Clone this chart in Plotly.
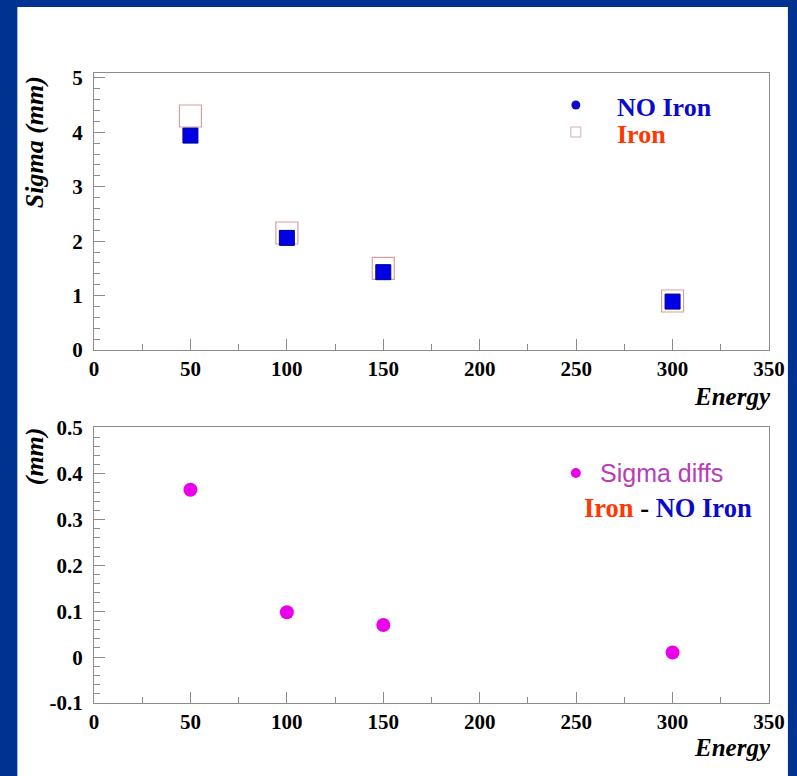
import plotly.graph_objects as go

# Beam energies and measured widths
energy = [50, 100, 150, 300]
sigma_no_iron = [3.94, 2.06, 1.43, 0.89]
sigma_iron = [4.30, 2.15, 1.50, 0.90]
sigma_diff = [0.365, 0.098, 0.07, 0.01]

x_ticks = [0, 50, 100, 150, 200, 250, 300, 350]
top_y_ticks = [0, 1, 2, 3, 4, 5]
bottom_y_ticks = [-0.1, 0, 0.1, 0.2, 0.3, 0.4, 0.5]
bottom_y_labels = ["-0.1", "0", "0.1", "0.2", "0.3", "0.4", "0.5"]

W, H = 797, 776
L, R, T, B = 94, 772, 73, 703          # plot area in pixels


def px(x):
    return (x - L) / (R - L)


def py(y):
    return (B - y) / (B - T)


BLUE_BG = "rgb(0,50,145)"
FRAME = "rgb(140,140,140)"
SERIF = "Liberation Serif, Times New Roman, serif"
SANS = "Liberation Sans, Arial, sans-serif"
TEXT_BLUE = "rgb(10,10,205)"
TEXT_RED = "rgb(255,55,0)"

fig = go.Figure()

fig.add_trace(go.Scatter(
    x=energy, y=sigma_iron, mode="markers", name="Iron",
    marker=dict(symbol="square-open", size=22, color="rgb(215,160,160)",
                line=dict(width=1.2)),
    xaxis="x", yaxis="y", showlegend=False,
))
fig.add_trace(go.Scatter(
    x=energy, y=sigma_no_iron, mode="markers", name="NO Iron",
    marker=dict(symbol="square", size=15, color="rgb(0,0,230)",
                line=dict(width=1, color="rgb(0,0,140)")),
    xaxis="x", yaxis="y", showlegend=False,
))
fig.add_trace(go.Scatter(
    x=energy, y=sigma_diff, mode="markers", name="Sigma diffs",
    marker=dict(symbol="circle", size=14, color="rgb(235,0,235)",
                line=dict(width=0)),
    xaxis="x2", yaxis="y2", showlegend=False,
))

tickfont = dict(family=SERIF, size=21, color="black", weight=700)
axis_common = dict(
    showline=True, linecolor=FRAME, linewidth=1, mirror=True,
    ticks="inside", tickcolor=FRAME, ticklen=11, tickwidth=1,
    showgrid=False, zeroline=False, tickfont=tickfont,
)

xaxis_cfg = dict(axis_common, range=[0, 350], tickvals=x_ticks,
                 minor=dict(ticks="inside", dtick=25, ticklen=6,
                            tickcolor=FRAME, showgrid=False),
                 ticklabelstandoff=0)

fig.update_layout(
    width=W, height=H,
    margin=dict(l=L, r=W - R, t=T, b=H - B),
    paper_bgcolor=BLUE_BG,
    plot_bgcolor="white",
    xaxis=dict(xaxis_cfg, domain=[0, 1], anchor="y"),
    yaxis=dict(axis_common, domain=[py(350), 1], anchor="x",
               range=[0, 5.09], tickvals=top_y_ticks,
               minor=dict(ticks="inside", dtick=0.2, ticklen=6,
                          tickcolor=FRAME, showgrid=False),
               ticklabelstandoff=6),
    xaxis2=dict(xaxis_cfg, domain=[0, 1], anchor="y2"),
    yaxis2=dict(axis_common, domain=[0, py(427)], anchor="x2",
                range=[-0.1, 0.502], tickvals=bottom_y_ticks,
                ticktext=bottom_y_labels,
                minor=dict(ticks="inside", dtick=0.02, ticklen=6,
                           tickcolor=FRAME, showgrid=False),
                ticklabelstandoff=6),
    showlegend=False,
)

# white panel behind the plots
fig.add_shape(type="rect", xref="paper", yref="paper",
              x0=px(17), x1=px(791), y0=py(777), y1=py(7),
              fillcolor="white", line=dict(width=0), layer="below")

# legend glyphs
fig.add_shape(type="circle", xref="paper", yref="paper",
              x0=px(573.5), x1=px(582.5), y0=py(109.5), y1=py(100.5),
              fillcolor="rgb(10,10,205)", line=dict(width=0))
fig.add_shape(type="rect", xref="paper", yref="paper",
              x0=px(573), x1=px(583), y0=py(137), y1=py(127),
              fillcolor="white", line=dict(width=1, color="rgb(215,170,170)"))
fig.add_shape(type="circle", xref="paper", yref="paper",
              x0=px(573), x1=px(583), y0=py(478), y1=py(468),
              fillcolor="rgb(235,0,235)", line=dict(width=0))

ann = []


def text(x, y, s, font, xanchor="left", yanchor="middle", angle=0):
    ann.append(dict(x=px(x), y=py(y), xref="paper", yref="paper", text=s,
                    showarrow=False, xanchor=xanchor, yanchor=yanchor,
                    textangle=angle, font=font))


def bold_serif(color, size=26):
    return dict(family=SERIF, size=size, weight=700, color=color)


text(617, 107, "NO Iron", bold_serif(TEXT_BLUE))
text(617, 134, "Iron", bold_serif(TEXT_RED))
text(600, 473, "Sigma diffs",
     dict(family=SANS, size=25, color="rgb(185,60,185)"))
text(584, 508,
     "<span style='color:%s'>Iron</span> - "
     "<span style='color:%s'>NO Iron</span>" % (TEXT_RED, TEXT_BLUE),
     bold_serif("black", 26.5))

title_font = dict(family=SERIF, size=26, color="black", style="italic",
                  weight=700)
energy_font = dict(title_font, size=25)
text(776, 396, "Energy", energy_font, xanchor="right")
text(776, 747, "Energy", energy_font, xanchor="right")
text(34, 142, "Sigma (mm)", title_font, xanchor="center", angle=-90)
text(34, 456, "(mm)", title_font, xanchor="center", angle=-90)

fig.update_layout(annotations=ann)

fig.write_html("out.html")
